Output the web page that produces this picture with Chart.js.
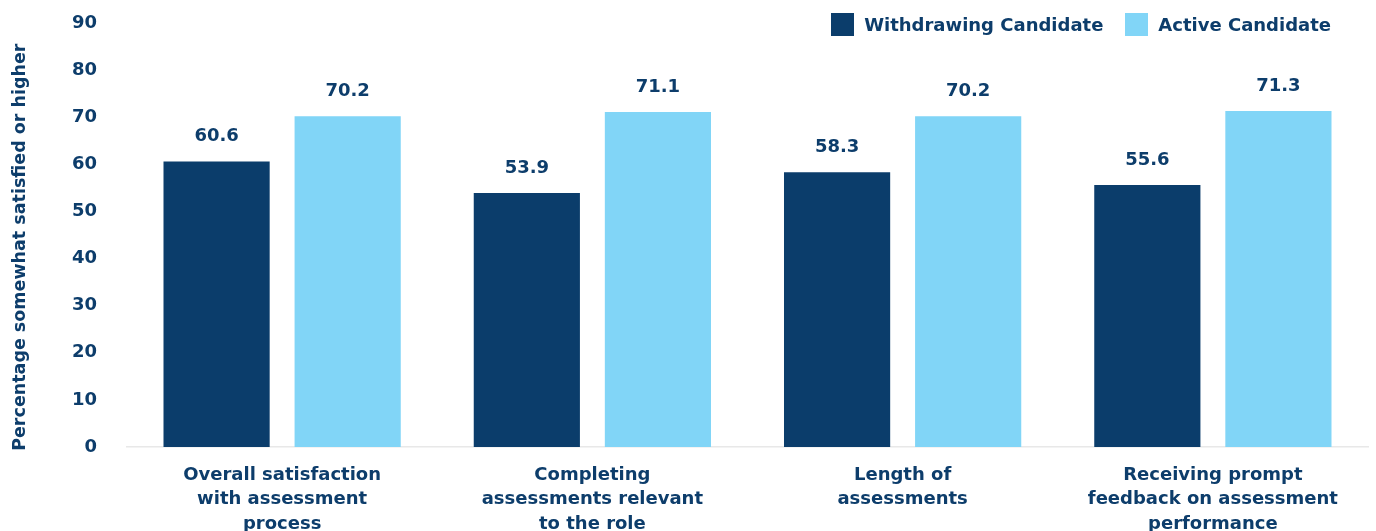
<!DOCTYPE html>
<html>
<head>
<meta charset="utf-8">
<script src="https://cdn.jsdelivr.net/npm/chart.js@4.4.1/dist/chart.umd.min.js"></script>
<style>
  html, body { margin: 0; padding: 0; background: #fff; }
  #wrap { position: relative; width: 1376px; height: 531px; }
  #legend { position: absolute; top: 13px; right: 45px; display: flex; align-items: center;
    font-family: "DejaVu Sans", sans-serif; font-weight: 700; font-size: 18px; color: #0d3d6b; }
  #legend .item { display: flex; align-items: center; margin-left: 22px; }
  #legend .box { width: 23px; height: 23px; margin-right: 10px; }
</style>
</head>
<body>
<div id="wrap">
  <canvas id="chart" width="1376" height="531"></canvas>
  <div id="legend"></div>
</div>
<script>
const categories = [
    ['Overall satisfaction', 'with assessment', 'process'],
    ['Completing', 'assessments relevant', 'to the role'],
    ['Length of', 'assessments'],
    ['Receiving prompt', 'feedback on assessment', 'performance']
];
const withdrawing = [60.6, 53.9, 58.3, 55.6];
const active = [70.2, 71.1, 70.2, 71.3];
const seriesNames = ['Withdrawing Candidate', 'Active Candidate'];
const yTicks = [0, 10, 20, 30, 40, 50, 60, 70, 80, 90];

const DARK = '#0b3d6b';
const LIGHT = '#81d5f7';
const TEXT = '#0d3d6b';
const FONT = '"DejaVu Sans", sans-serif';

// legend as plain html in the top right corner
const legendEl = document.getElementById('legend');
[[seriesNames[0], DARK], [seriesNames[1], LIGHT]].forEach(([name, color]) => {
    const item = document.createElement('div');
    item.className = 'item';
    item.innerHTML = `<span class="box" style="background:${color}"></span><span>${name}</span>`;
    legendEl.appendChild(item);
});

const valueLabels = {
    id: 'valueLabels',
    afterDatasetsDraw(chart) {
        const ctx = chart.ctx;
        ctx.save();
        ctx.font = `700 18px ${FONT}`;
        ctx.fillStyle = TEXT;
        ctx.textAlign = 'center';
        ctx.textBaseline = 'bottom';
        chart.data.datasets.forEach((ds, i) => {
            chart.getDatasetMeta(i).data.forEach((bar, j) => {
                ctx.fillText(ds.data[j].toFixed(1), bar.x, bar.y - 16);
            });
        });
        ctx.restore();
    }
};

new Chart(document.getElementById('chart'), {
    type: 'bar',
    data: {
        labels: categories,
        datasets: [
            { label: seriesNames[0], data: withdrawing, backgroundColor: DARK },
            { label: seriesNames[1], data: active, backgroundColor: LIGHT }
        ]
    },
    options: {
        responsive: false,
        animation: false,
        layout: { padding: { top: 0, right: 8, bottom: 0, left: 0 } },
        datasets: { bar: { categoryPercentage: 0.845, barPercentage: 0.81 } },
        plugins: {
            legend: { display: false },
            tooltip: { enabled: false }
        },
        scales: {
            x: {
                afterFit: s => { s.height = 84; },
                grid: { display: false },
                border: { display: true, color: '#e8e8e8', width: 1.5 },
                ticks: {
                    color: TEXT,
                    font: { family: FONT, size: 18, weight: '700', lineHeight: 1.36 },
                    padding: 8,
                    maxRotation: 0,
                    autoSkip: false
                }
            },
            y: {
                min: 0,
                max: 90,
                afterFit: s => { s.width = 127; s.paddingTop = 23; },
                afterBuildTicks: s => { s.ticks = yTicks.map(v => ({ value: v })); },
                grid: { display: false },
                border: { display: false },
                ticks: {
                    color: TEXT,
                    font: { family: FONT, size: 18, weight: '700' },
                    padding: 22
                },
                title: {
                    display: true,
                    // trailing spaces nudge the rotated title a bit lower, like the original
                    text: 'Percentage somewhat satisfied or higher    ',
                    color: TEXT,
                    font: { family: FONT, size: 17.5, weight: '700' },
                    padding: { top: 10, bottom: 0 }
                }
            }
        }
    },
    plugins: [valueLabels]
});
</script>
</body>
</html>
